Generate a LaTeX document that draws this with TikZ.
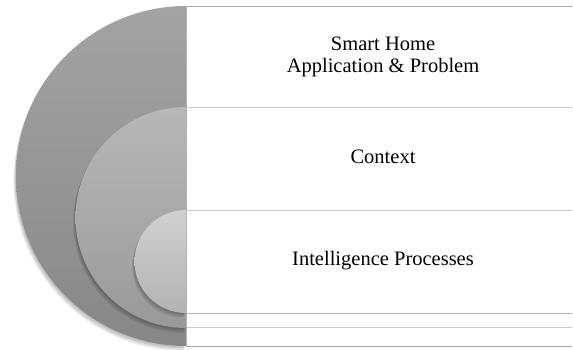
\documentclass[tikz,border=0pt]{standalone}
\usepackage{fontspec}
\setmainfont{Liberation Serif}
\usetikzlibrary{calc}

\begin{document}
\begin{tikzpicture}[x=1pt, y=1pt,
    halfdisc/.style={draw=none},
    discshadow/.style={fill=black, opacity=0.07},
    divider/.style={draw=black!35, line width=0.8pt},
    label/.style={align=center, font=\fontsize{20.5}{22}\selectfont}]
      \useasboundingbox (0,0) rectangle (573,349);

      \foreach \cy/\r/\tc/\bc in {173/170/black!36/black!47, 131.5/110.5/black!28/black!40, 87.5/51.5/black!18/black!30} {
        \foreach \d in {1,2,3,4} {
          \fill[discshadow] ($(186,\cy)+(-0.6*\d,-1.2*\d)$) ++(0,\r) arc (90:270:\r) -- cycle;
        }
        \shade[halfdisc, top color=\tc, bottom color=\bc] (186,\cy) ++(0,\r) arc (90:270:\r) -- cycle;
      }

      \coordinate (l1) at (186,343);
      \coordinate (r1) at (572,343);
      \coordinate (l2) at (186,242);
      \coordinate (r2) at (572,242);
      \coordinate (l3) at (186,139);
      \coordinate (r3) at (572,139);
      \coordinate (l4) at (186,36);
      \coordinate (r4) at (572,36);
      \coordinate (l5) at (186,22);
      \coordinate (r5) at (572,22);
      \coordinate (l6) at (186,3);
      \coordinate (r6) at (572,3);

      \draw[divider] (l1) -- (r1);
      \draw[divider, draw=black!20] (l2) -- (r2);
      \draw[divider, draw=black!20] (l3) -- (r3);
      \draw[divider, draw=black!30] (l4) -- (r4);
      \draw[divider, draw=black!20] (l5) -- (r5);
      \draw[divider] (l6) -- (r6);
      \draw[divider, draw=black!30] (l1) -- (l6);

      \node[label] (app) at (383,292) {Smart Home\\Application \& Problem};
      \node[label] (ctx) at (383,192) {Context};
      \node[label] (intel) at (383,88) {Intelligence Processes};
    \end{tikzpicture}
\end{document}
